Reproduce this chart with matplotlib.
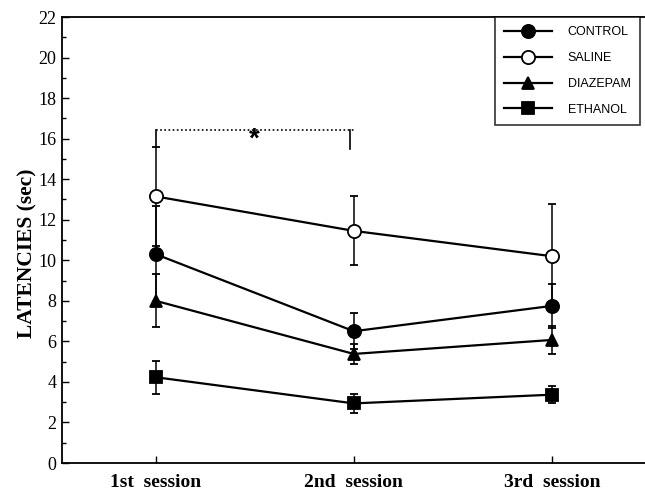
import matplotlib
matplotlib.use('Agg')
import matplotlib.pyplot as plt
from matplotlib.ticker import MultipleLocator
from matplotlib.lines import Line2D

# session labels and mean latencies (sec) with error bars
sessions = ['1st  session', '2nd  session', '3rd  session']
x = [1, 2, 3]

control = [10.3, 6.5, 7.75]
control_err = [2.4, 0.9, 1.07]

saline = [13.15, 11.45, 10.2]
saline_err = [2.45, 1.7, 2.6]

diazepam = [8.0, 5.38, 6.07]
diazepam_err = [1.3, 0.5, 0.7]

ethanol = [4.23, 2.94, 3.37]
ethanol_err = [0.82, 0.45, 0.43]

groups = [
  ('CONTROL', control, control_err, 'o', 'black', 9.5),
  ('SALINE', saline, saline_err, 'o', 'white', 9.5),
  ('DIAZEPAM', diazepam, diazepam_err, '^', 'black', 8.5),
  ('ETHANOL', ethanol, ethanol_err, 's', 'black', 8),
]

fig = plt.figure(figsize=(6.45, 4.93), dpi=100)
ax = fig.add_axes([62 / 645, 30 / 493, 583 / 645, 446 / 493])

for name, vals, err, mk, fc, ms in groups:
  ax.errorbar(x, vals, yerr=err, color='black', lw=1.6, elinewidth=1.1,
              capsize=3, capthick=1.1, marker=mk, markersize=ms,
              markerfacecolor=fc, markeredgecolor='black', markeredgewidth=1.3,
              zorder=3)

# significance bracket between 1st and 2nd session
ax.plot([1.0, 2.0], [16.43, 16.43], color='black', lw=1.2, ls=(0, (1, 1.5)))
ax.plot([1.0, 1.0], [15.6, 16.43], color='black', lw=1.2)
ax.plot([1.98, 1.98], [15.5, 16.43], color='black', lw=1.2)
ax.text(1.5, 15.95, '*', ha='center', va='center', fontsize=20,
        fontweight='bold', family='Liberation Sans')

ax.set_xlim(0.527, 3.47)
ax.set_ylim(0, 22)
ax.set_xticks(x)
ax.set_xticklabels(sessions, family='Liberation Serif', fontweight='bold', fontsize=14)
ax.yaxis.set_major_locator(MultipleLocator(2))
ax.yaxis.set_minor_locator(MultipleLocator(1))
for lab in ax.get_yticklabels():
  lab.set_family('Liberation Serif')
  lab.set_fontsize(13)
ax.tick_params(axis='both', which='major', direction='in', length=5, width=1)
ax.tick_params(axis='y', which='minor', direction='in', length=3, width=1)
ax.tick_params(axis='x', pad=8)
ax.tick_params(axis='y', pad=4)

ax.set_ylabel('LATENCIES (sec)', family='Liberation Serif', fontweight='bold',
              fontsize=15.5)
ax.yaxis.set_label_coords(-0.042, 0.47)

ax.spines['right'].set_visible(False)
for s in ['left', 'bottom', 'top']:
  ax.spines[s].set_linewidth(1.3)

handles = [Line2D([], [], color='black', lw=1.6, marker=mk, markersize=ms,
                  markerfacecolor=fc, markeredgecolor='black', markeredgewidth=1.3)
           for name, vals, err, mk, fc, ms in groups]
labels = [g[0] for g in groups]
leg = ax.legend(handles, labels, loc='upper right', bbox_to_anchor=(578 / 583, 1.0),
                borderaxespad=0, frameon=True, fancybox=False, edgecolor='black',
                handlelength=3.8, handletextpad=1.3, borderpad=0.75, labelspacing=1.1,
                prop={'family': 'Liberation Sans', 'size': 9})
leg.get_frame().set_linewidth(1.2)

plt.savefig('out.png', dpi=100)
